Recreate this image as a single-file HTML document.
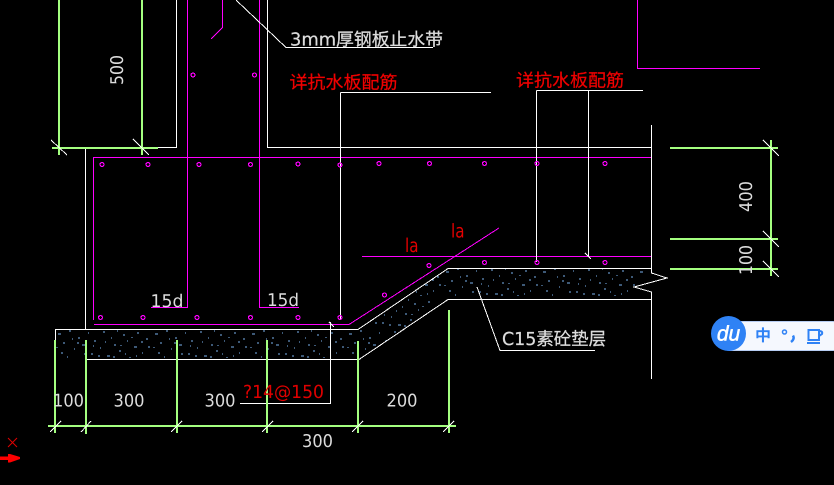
<!DOCTYPE html>
<html><head><meta charset="utf-8">
<style>
html,body{margin:0;padding:0;background:#000;width:834px;height:485px;overflow:hidden}
svg{display:block}
text{font-family:"DejaVu Sans","Noto Sans CJK SC",sans-serif;text-rendering:geometricPrecision}
.d{font-size:17.5px;fill:#dcdcdc}
.c{font-size:17.8px;fill:#dcdcdc;stroke:#dcdcdc;stroke-width:.25}
.r{font-size:17.8px;fill:#ee0000;stroke:#ee0000;stroke-width:.25}
.w{stroke:#fff;stroke-width:1;fill:none;shape-rendering:crispEdges}
.m{stroke:#ff00ff;stroke-width:1;fill:none;shape-rendering:crispEdges}
.g{stroke:#a4ff80;stroke-width:2;fill:none;shape-rendering:crispEdges}
.o{stroke:#ff00ff;stroke-width:1.2;fill:none;shape-rendering:crispEdges}
</style></head><body>
<svg width="834" height="485" viewBox="0 0 834 485" xmlns="http://www.w3.org/2000/svg">
<defs>
<clipPath id="cl"><polygon points="55,329 358,329 448,268 648,268 634,287 648,299 448,299 359,359 55,359"/></clipPath>
<path id="tile" stroke="#7ab2ee" stroke-width="1" fill="none" shape-rendering="crispEdges" d="M3 5h3M9 13v2M14 2h2M19 20h1M24 8v2M27 16h3M33 4h1M36 25h2M40 11v2M45 19h1M48 3h2M52 27h3M56 9h1M60 15v2M64 22h2M68 6h2M72 12h1M75 28v1M79 18h3M83 3v2M87 24h1M91 10h2M94 17v2M6 24h2M12 28h1M17 10h1M30 24v2M43 27h2M50 13h1M62 2h1M70 25h1M86 13h2M22 14h2M2 18v1M38 17h1M58 28h2M77 8v1M81 27h1M66 16v1"/>
</defs>
<rect width="834" height="485" fill="#000"/>

<g clip-path="url(#cl)">
<use href="#tile" x="55" y="329"/><use href="#tile" x="152" y="329"/><use href="#tile" x="249" y="329"/><use href="#tile" x="346" y="329"/>
<use href="#tile" x="346" y="298"/><use href="#tile" x="443" y="298"/><use href="#tile" x="540" y="298"/>
<use href="#tile" x="346" y="267"/><use href="#tile" x="443" y="267"/><use href="#tile" x="540" y="267"/>
<use href="#tile" x="637" y="267"/>
</g>

<!-- magenta -->
<path class="m" d="M187.5 0V307.5H151M259.5 0V307.5H299M93.5 320V157.5H651.5M222.5 0V27.5L211 39M637.5 0V68.5H760M362 256.5H651.5M94 324.5H349L499 228"/>

<!-- white -->
<path class="w" d="M158 147.5H176.5V0M267.5 0V147.5H651.5M85.5 147.5V329M236 0L286 47.5H433M340.5 92.5H491M340.5 92.5V320M536.5 90.5H643M536.5 90.5V262M588.5 90.5V256"/>
<path class="w" d="M651.5 125V273L667 278L634 287L651.5 292V379"/>
<path class="w" d="M55.5 360V329.5H358L448 268.5H651.5M85 359.5H359L448 299.5H651.5"/>
<path class="w" d="M330.5 322V403.5H240M477 287L500 350.5H595"/>

<!-- green dims -->
<path class="g" d="M59 0V155M142 0V155M52 148H158M670 148H778M771 140V276M670 239H778M670 269H778"/>
<path class="g" d="M55 340V433M86 340V434M177 340V433M267 340V433M358 341V433M449 310V433M48 426H456"/>

<!-- ticks -->
<path class="w" d="M51 140L67 155M133 139L149 155M763 140L779 156M763 231L779 247M763 261L779 277M50 432L61 421M81 432L91 421M171 432L182 421M262 432L273 421M352 432L363 421M443 432L454 421M585 253L591 259M329 322L334 327"/>

<!-- rebar dots -->
<g class="o">
<circle cx="193" cy="75" r="2"/><circle cx="254.5" cy="75" r="2"/>
<circle cx="102" cy="164.5" r="2"/><circle cx="148" cy="164.5" r="2"/><circle cx="199" cy="164.5" r="2"/><circle cx="250.5" cy="164.5" r="2"/><circle cx="298" cy="164" r="2"/><circle cx="340" cy="165" r="2"/><circle cx="379" cy="163.5" r="2"/><circle cx="429.5" cy="163.5" r="2"/><circle cx="484.5" cy="163.5" r="2"/><circle cx="537" cy="163.5" r="2"/><circle cx="605" cy="163.5" r="2"/>
<circle cx="100.5" cy="317.5" r="2"/><circle cx="143" cy="317.5" r="2"/><circle cx="197" cy="317.5" r="2"/><circle cx="250.5" cy="317.5" r="2"/><circle cx="298" cy="317.5" r="2"/><circle cx="340" cy="317.5" r="2"/>
<circle cx="384.5" cy="295" r="2"/><circle cx="429" cy="265.5" r="2"/><circle cx="484.5" cy="262.5" r="2"/><circle cx="537" cy="262.5" r="2"/><circle cx="605" cy="262.5" r="2"/>
</g>

<!-- texts -->
<text class="c" x="290" y="45.5" textLength="153" lengthAdjust="spacingAndGlyphs">3mm厚钢板止水带</text>
<text class="r" x="289.5" y="88.5" textLength="108" lengthAdjust="spacingAndGlyphs">详抗水板配筋</text>
<text class="r" x="516" y="86.5" textLength="108" lengthAdjust="spacingAndGlyphs">详抗水板配筋</text>
<text class="c" x="502" y="345" textLength="104" lengthAdjust="spacingAndGlyphs">C15素砼垫层</text>
<text class="d" transform="translate(123,85) rotate(-90)" textLength="30" lengthAdjust="spacingAndGlyphs">500</text>
<text class="d" transform="translate(752,212) rotate(-90)" textLength="31" lengthAdjust="spacingAndGlyphs">400</text>
<text class="d" transform="translate(752,275) rotate(-90)" textLength="30" lengthAdjust="spacingAndGlyphs">100</text>
<text class="d" x="150.5" y="307" textLength="33" lengthAdjust="spacingAndGlyphs">15d</text>
<text class="d" x="267" y="306" textLength="32" lengthAdjust="spacingAndGlyphs">15d</text>
<text class="d" x="53" y="406.7" textLength="31" lengthAdjust="spacingAndGlyphs">100</text>
<text class="d" x="113.500" y="406.7" textLength="31" lengthAdjust="spacingAndGlyphs">300</text>
<text class="d" x="204.500" y="406.7" textLength="31" lengthAdjust="spacingAndGlyphs">300</text>
<text class="d" x="386.500" y="406.7" textLength="31" lengthAdjust="spacingAndGlyphs">200</text>
<text class="d" x="302" y="447" textLength="31" lengthAdjust="spacingAndGlyphs">300</text>
<text x="243" y="398" font-size="18" fill="#e00000" textLength="81" lengthAdjust="spacingAndGlyphs">?14@150</text>
<text x="405" y="252" font-size="19" fill="#e60000" textLength="13.500" lengthAdjust="spacingAndGlyphs">la</text>
<text x="451" y="237.500" font-size="19" fill="#e60000" textLength="13.500" lengthAdjust="spacingAndGlyphs">la</text>

<!-- UCS marker -->
<path d="M8 438L17 447M17 438L8 447" stroke="#e00000" stroke-width="1" fill="none"/>
<path d="M0 456.500H8V454H10L20 457V459L10 462.500H8V460H0Z" fill="#ff0000"/>

<!-- IME widget -->
<rect x="725" y="321.500" width="112" height="29" rx="4" fill="#f5f8fe" stroke="#b7cdf3"/>
<circle cx="728.500" cy="333.500" r="17.500" fill="#2f82f5"/>
<text x="728.500" y="340.500" font-size="21" font-style="italic" fill="#fff" stroke="#fff" stroke-width=".5" text-anchor="middle" style='font-family:"Liberation Sans",sans-serif'>du</text>
<text x="763" y="341" font-size="16" font-weight="bold" fill="#2f82f5" text-anchor="middle">中</text>
<circle cx="784.500" cy="332" r="2" fill="none" stroke="#2f82f5" stroke-width="1.500"/>
<path d="M793 335.500Q795 339 791 342" stroke="#2f82f5" stroke-width="2.500" fill="none"/>
<path d="M808.500 330H819V340H808.500ZM819 331Q823 331 822 334L819 336M807 343H820" stroke="#2f82f5" stroke-width="2" fill="none"/>
</svg>
</body></html>
